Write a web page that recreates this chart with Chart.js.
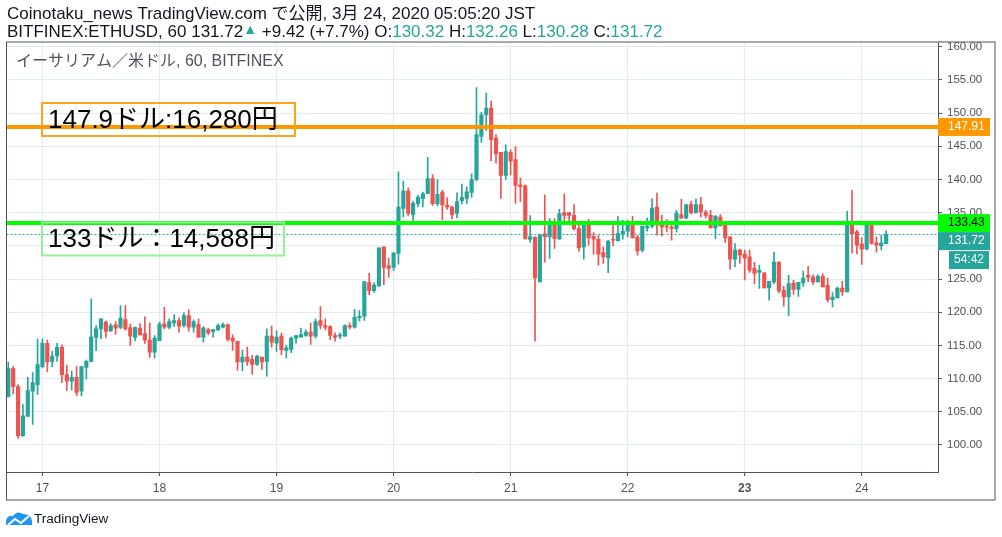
<!DOCTYPE html>
<html>
<head>
<meta charset="utf-8">
<script src="https://cdn.jsdelivr.net/npm/chart.js@4.4.1/dist/chart.umd.min.js"></script>
<style>
	html, body { margin: 0; padding: 0; background: #fff; }
	#wrap { position: relative; width: 1002px; height: 537px; }
</style>
</head>
<body>
<div id="wrap"><canvas id="chart" width="1002" height="537"></canvas></div>
<script>
// hourly candles, 16th 17:00 .. 24th 05:00
var openP = [
	107.3,111.5,108.8,101.4,104.3,108.1,109.1,111.8,115.3,112.6,113.4,114.7,110.6,109.6,110.2,108.1,111.7,112.6,116.2,117.5,
	118.5,117.2,118.1,117.7,118.9,117.7,116.2,117.6,116.8,115.8,114.0,115.7,118.25,117.75,118.4,118.75,118.0,119.5,117.75,118.15,
	116.25,117.4,117.1,117.35,117.75,118.15,116.1,115.6,112.5,113.25,112.9,112.15,113.25,112.6,116.4,115.35,116.4,114.25,114.4,116.1,
	116.25,116.5,117.0,116.4,118.75,118.0,117.85,116.5,116.4,116.4,118.0,117.75,119.15,119.4,124.45,123.25,124.0,129.85,127.0,126.75,
	128.85,135.65,138.25,134.65,136.35,137.1,137.85,140.15,136.35,138.1,136.15,135.85,134.9,136.8,137.15,138.05,140.0,146.5,149.75,150.75,
	146.25,144.1,140.6,144.1,143.0,139.2,139.05,130.95,131.3,124.55,131.8,131.35,133.35,131.0,135.0,135.0,134.6,132.6,129.85,133.5,
	131.45,131.0,129.0,128.2,131.0,130.75,131.75,132.2,133.2,131.35,129.35,132.7,132.95,135.85,133.1,133.0,132.85,132.6,134.7,134.2,
	136.2,134.95,136.2,135.1,134.6,132.7,134.35,133.2,131.35,128.0,129.35,128.75,128.35,126.6,126.0,125.95,123.65,124.55,127.55,123.3,
	122.3,124.4,123.45,124.4,125.55,125.3,124.55,125.4,124.05,121.9,122.15,123.65,123.05,133.35,132.1,130.25,129.55,133.2,130.45,130.0,
	130.32
];
var highP = [
	112.5,111.8,109.1,106.1,110.2,110.9,116.0,116.0,115.8,114.1,115.3,115.1,112.0,111.1,111.8,111.8,112.8,122.0,118.0,119.0,
	118.7,118.3,118.6,121.0,121.0,118.2,117.8,118.3,119.3,118.4,116.5,118.5,120.75,119.0,119.65,119.15,119.9,120.4,118.85,119.0,
	117.85,117.6,117.4,118.25,118.4,118.25,116.6,115.6,114.25,114.75,113.5,113.5,113.25,117.5,117.9,117.25,116.85,115.0,116.25,116.5,
	117.6,117.35,118.35,119.0,120.85,119.0,118.0,116.9,116.85,118.1,118.4,120.4,120.25,124.6,125.85,124.45,129.7,129.85,128.15,128.95,
	141.15,139.75,138.75,136.75,137.6,138.1,143.35,140.75,140.0,138.35,137.25,136.0,138.0,139.3,138.9,140.85,153.85,150.1,153.0,151.85,
	146.75,144.1,145.2,144.45,144.95,140.25,139.2,134.55,131.4,131.7,137.7,134.1,134.1,135.5,137.85,135.0,136.2,133.6,133.6,134.0,
	132.0,131.6,129.85,130.85,133.2,134.45,133.85,133.85,134.45,131.6,132.95,134.2,137.1,137.95,134.6,133.95,133.1,135.35,137.0,136.2,
	136.7,137.1,137.3,135.35,135.35,134.6,134.7,133.45,131.35,130.35,129.5,129.35,129.35,127.5,127.1,125.95,124.65,129.05,127.55,123.9,
	125.55,124.8,124.5,126.2,126.9,125.65,125.65,125.8,125.15,122.95,123.8,124.65,135.2,138.35,132.35,131.25,133.2,133.2,131.35,131.6,
	132.26
];
var lowP = [
	107.2,107.7,101.0,101.3,104.3,103.1,107.6,111.6,111.0,111.8,112.6,109.4,108.2,108.3,107.4,107.4,109.9,112.5,114.2,116.0,
	116.2,117.1,116.7,117.5,117.3,115.0,115.7,116.6,115.3,113.2,113.1,115.7,117.5,117.5,117.85,117.0,117.75,117.15,117.0,116.25,
	115.5,116.6,116.25,117.25,117.65,115.65,114.25,111.25,111.15,112.0,110.65,112.0,111.4,110.35,114.75,114.1,113.6,113.1,113.9,115.35,
	116.25,116.35,115.15,116.1,117.5,117.35,115.85,115.65,116.0,116.4,117.5,117.6,118.65,118.75,122.65,123.0,123.85,124.15,125.25,126.25,
	127.25,134.35,134.5,133.65,135.85,135.85,137.85,136.1,136.0,133.9,135.5,134.05,134.2,136.3,136.3,137.3,139.8,145.6,147.35,142.85,
	142.45,137.15,140.0,140.7,136.4,136.7,131.05,130.5,115.65,124.55,127.55,128.1,129.6,131.0,133.35,133.2,132.35,129.2,128.0,130.1,
	128.7,127.1,127.35,125.95,130.0,130.75,131.0,131.35,131.2,128.6,129.1,132.2,132.7,131.6,131.45,132.1,130.85,132.1,134.1,134.1,
	134.8,134.95,134.35,134.2,132.7,131.1,133.0,130.5,126.5,126.85,127.35,124.85,126.0,124.25,123.6,123.65,121.8,124.3,122.9,120.9,
	119.5,122.7,122.4,123.9,124.55,124.2,124.55,123.8,121.5,120.8,122.15,122.55,123.05,128.9,128.8,127.2,129.4,130.25,129.05,129.4,
	130.28
];
var closeP = [
	111.5,108.8,101.4,104.4,108.2,109.4,112.1,115.3,112.5,113.4,114.7,110.6,109.6,110.2,107.9,111.8,112.6,116.3,117.5,119.0,
	117.1,118.0,117.6,119.1,117.5,116.4,117.7,116.6,115.8,114.0,116.1,118.2,117.75,118.6,118.75,117.9,119.5,117.75,118.6,116.25,
	117.65,116.9,117.4,118.0,118.15,115.9,115.65,112.5,113.25,112.5,112.15,113.4,112.5,116.4,115.5,116.25,114.35,114.65,116.1,116.5,
	116.65,117.0,116.4,118.6,118.0,117.75,116.5,116.25,116.6,118.0,117.75,119.25,119.4,124.6,123.25,124.1,129.7,126.75,126.6,128.95,
	135.85,138.25,134.9,136.4,137.35,137.85,140.15,136.35,137.75,136.15,135.85,134.7,136.65,137.3,138.15,140.0,146.75,149.75,150.75,146.0,
	143.85,140.6,144.2,142.75,139.1,138.9,131.05,131.4,125.15,131.7,131.4,133.6,131.1,134.85,134.6,134.6,132.6,129.7,133.5,131.2,
	131.0,128.75,128.35,130.7,130.85,131.85,132.2,133.6,131.2,129.25,132.95,132.95,135.7,133.1,132.85,132.85,132.6,134.95,134.2,136.2,
	134.95,136.2,135.1,134.6,132.7,134.45,133.0,131.2,128.0,129.35,128.6,128.2,126.35,125.85,126.3,123.65,124.65,127.55,123.2,122.3,
	124.3,123.45,124.5,125.15,125.3,124.55,125.4,123.8,121.9,122.3,123.65,123.05,133.35,131.85,130.1,129.5,133.2,130.35,130.1,130.45,
	131.72
];

var dayTickIdx = [7, 31, 55, 79, 103, 127, 151, 175];
var dayLabels = ['17', '18', '19', '20', '21', '22', '23', '24'];
var priceMin = 95.93, priceMax = 160.71, priceStep = 5;
var idxMin = -0.37, idxMax = 190.63;

var levelOrange = 147.91;
var levelGreen = 133.43;
var lastPrice = 131.72;
var countdown = '54:42';
var noteOrange = '147.9ドル:16,280円';
var noteGreen = '133ドル：14,588円';

var headerLine1 = 'Coinotaku_news TradingView.com で公開, 3月 24, 2020 05:05:20 JST';
var headerLine2 = [
	['BITFINEX:ETHUSD, 60 131.72', '#131722'],
	['▲', '#26a69a'],
	[' +9.42 (+7.7%) O:', '#131722'],
	['130.32', '#26a69a'],
	[' H:', '#131722'],
	['132.26', '#26a69a'],
	[' L:', '#131722'],
	['130.28', '#26a69a'],
	[' C:', '#131722'],
	['131.72', '#26a69a']
];
var paneTitle = 'イーサリアム／米ドル, 60, BITFINEX';

var UP = '#26a69a', DOWN = '#ef5350';
var FONT = '"Liberation Sans", Arial, "Noto Sans CJK JP", sans-serif';

var candleColors = closeP.map(function(c, i) { return c >= openP[i] ? UP : DOWN; });
var wickData = highP.map(function(h, i) { return { x: i, y: [lowP[i], h] }; });
var bodyData = openP.map(function(o, i) { return { x: i, y: [o, closeP[i]] }; });

function flat(v) {
	return [{ x: idxMin, y: v }, { x: idxMax, y: v }];
}

var decor = {
	id: 'decor',
	afterDraw: function(chart) {
		var ctx = chart.ctx;
		var ca = chart.chartArea;
		var ys = chart.scales.y;
		var axR = ca.right + 57;
		ctx.save();

		// header
		ctx.textBaseline = 'middle';
		ctx.textAlign = 'left';
		ctx.fillStyle = '#131722';
		ctx.font = '17px ' + FONT;
		ctx.fillText(headerLine1, 7, 14);
		var x = 7;
		headerLine2.forEach(function(p) {
			var tri = p[0] === '▲';
			ctx.fillStyle = p[1];
			ctx.font = (tri ? '14px ' : '17px ') + FONT;
			ctx.fillText(p[0], x, tri ? 30 : 32);
			x += ctx.measureText(p[0]).width;
		});

		// outer frame
		ctx.strokeStyle = '#50535e';
		ctx.lineWidth = 1;
		ctx.strokeRect(ca.left, ca.top, axR - ca.left, chart.scales.x.bottom - ca.top);

		// pane title
		ctx.fillStyle = '#50535e';
		ctx.font = '16px ' + FONT;
		ctx.fillText(paneTitle, 16, 62);

		// note boxes
		ctx.textBaseline = 'alphabetic';
		ctx.font = '26px ' + FONT;
		ctx.lineWidth = 2;
		ctx.strokeStyle = '#ffa31a';
		ctx.strokeRect(42, 103, 253, 33);
		ctx.fillStyle = '#000';
		ctx.fillText(noteOrange, 48, 127.5);
		ctx.strokeStyle = '#94f294';
		ctx.strokeRect(42, 222.5, 242, 33);
		ctx.fillStyle = '#000';
		ctx.fillText(noteGreen, 48, 246.5);

		// price labels on the axis
		ctx.textBaseline = 'middle';
		ctx.font = '12px ' + FONT;
		var yo = ys.getPixelForValue(levelOrange);
		ctx.fillStyle = '#ff9800';
		ctx.fillRect(ca.right, yo - 9, 52, 18);
		ctx.fillStyle = '#fff';
		ctx.fillText(levelOrange.toFixed(2), ca.right + 10, yo);

		var yg = ys.getPixelForValue(levelGreen);
		ctx.fillStyle = '#00ff00';
		ctx.fillRect(ca.right, yg - 9, 52, 18);
		ctx.fillStyle = '#000';
		ctx.fillText(levelGreen.toFixed(2), ca.right + 10, yg);

		var yl = yg + 18;
		ctx.fillStyle = UP;
		ctx.fillRect(ca.right, yl - 9, 52, 18);
		ctx.fillStyle = '#fff';
		ctx.fillText(lastPrice.toFixed(2), ca.right + 10, yl);
		ctx.fillStyle = UP;
		ctx.fillRect(ca.right + 11, yl + 10, 40, 18);
		ctx.fillStyle = '#fff';
		ctx.fillText(countdown, ca.right + 16, yl + 19);

		// logo
		ctx.fillStyle = '#2196f3';
		ctx.beginPath();
		ctx.moveTo(6, 525);
		ctx.lineTo(6, 521);
		ctx.quadraticCurveTo(7, 515, 13, 516);
		ctx.quadraticCurveTo(17, 510, 23, 514);
		ctx.quadraticCurveTo(31, 514, 32, 521);
		ctx.lineTo(32, 525);
		ctx.closePath();
		ctx.fill();
		ctx.strokeStyle = '#fff';
		ctx.lineWidth = 2;
		ctx.beginPath();
		ctx.moveTo(8, 525);
		ctx.lineTo(15, 519);
		ctx.lineTo(21, 523);
		ctx.lineTo(29, 516);
		ctx.stroke();
		ctx.fillStyle = '#131722';
		ctx.font = '13.5px ' + FONT;
		ctx.fillText('TradingView', 34, 519);
		ctx.restore();
	}
};

new Chart(document.getElementById('chart'), {
	type: 'bar',
	data: {
		datasets: [
			{ type: 'line', data: flat(levelOrange), borderColor: '#ff9800', borderWidth: 4, pointRadius: 0, order: 0 },
			{ type: 'line', data: flat(levelGreen), borderColor: '#00ff00', borderWidth: 4, pointRadius: 0, order: 0 },
			{ type: 'line', data: flat(lastPrice), borderColor: UP, borderWidth: 1, borderDash: [2, 2], pointRadius: 0, order: 1 },
			{ data: bodyData, backgroundColor: candleColors, barThickness: 3.5, minBarLength: 1, grouped: false, order: 2 },
			{ data: wickData, backgroundColor: candleColors, barThickness: 1, grouped: false, order: 3 }
		]
	},
	options: {
		responsive: false,
		animation: false,
		devicePixelRatio: 1,
		layout: { padding: { left: 6.5, top: 42, right: 7, bottom: 37 } },
		plugins: { legend: { display: false }, tooltip: { enabled: false } },
		scales: {
			x: {
				type: 'linear',
				min: idxMin,
				max: idxMax,
				offset: false,
				afterBuildTicks: function(scale) {
					scale.ticks = dayTickIdx.map(function(v) { return { value: v }; });
				},
				afterFit: function(scale) { scale.height = 28; },
				grid: { offset: false, color: '#e1ecf2', tickColor: '#50535e', tickLength: 4 },
				border: { color: '#50535e' },
				ticks: {
					padding: 5,
					maxRotation: 0,
					autoSkip: false,
					color: '#50535e',
					font: function(c) {
						return { family: FONT, size: 12, weight: c.tick && c.tick.value === 151 ? 'bold' : 'normal' };
					},
					callback: function(v) { return dayLabels[dayTickIdx.indexOf(v)]; }
				}
			},
			y: {
				position: 'right',
				min: priceMin,
				max: priceMax,
				afterFit: function(scale) { scale.width = 57; },
				grid: { color: '#e1ecf2', tickColor: '#50535e', tickLength: 4 },
				border: { color: '#50535e' },
				ticks: {
					stepSize: priceStep,
					includeBounds: false,
					padding: 5,
					color: '#50535e',
					font: { family: FONT, size: 11.5 },
					callback: function(v) { return v.toFixed(2); }
				}
			}
		}
	},
	plugins: [decor]
});
</script>
</body>
</html>
